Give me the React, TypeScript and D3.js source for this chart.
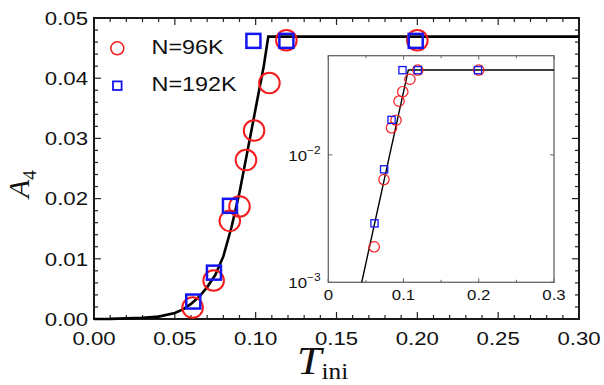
import React from "react";
import * as d3 from "d3";

// N=96K (red circles)
const t96 = [0.061, 0.074, 0.084, 0.09, 0.094, 0.099, 0.1085, 0.119, 0.2];
const a96 = [0.0019, 0.0064, 0.0163, 0.0187, 0.0264, 0.0313, 0.0392, 0.0463, 0.0463];
// N=192K (blue squares)
const t192 = [0.0614, 0.0742, 0.0841, 0.0986, 0.119, 0.199];
const a192 = [0.0029, 0.0077, 0.0188, 0.0462, 0.0462, 0.0462];

// fitted curve
const curveT = [0, 0.01, 0.02, 0.03, 0.04, 0.05, 0.055, 0.06, 0.065, 0.07, 0.075, 0.08, 0.085, 0.09, 0.095, 0.1, 0.105, 0.1078, 0.3];
const curveA = [0, 0.00002, 0.0001, 0.0002, 0.0004, 0.001, 0.0016, 0.0025, 0.0037, 0.0053, 0.0073, 0.0104, 0.0152, 0.021, 0.028, 0.035, 0.042, 0.0469, 0.0469];

// inset line (straight on log axis)
const insetLineT = [0.0444, 0.1064, 0.3];
const insetLineA = [0.001, 0.0464, 0.0464];

const xTicks = [0, 0.05, 0.1, 0.15, 0.2, 0.25, 0.3];
const yTicks = [0, 0.01, 0.02, 0.03, 0.04, 0.05];
const insetXTicks = [0, 0.1, 0.2, 0.3];
const insetYTicks = [0.001, 0.01];

const RED = "#f41c1c";
const BLUE = "#1515f0";
const SX = 1.2; // the picture's text is a little wide

const StretchText = ({ x, y, anchor = "start", size, children, ...rest }: any) => (
  <text
    transform={`translate(${x},${y}) scale(${SX},1)`}
    textAnchor={anchor}
    fontSize={size}
    fontFamily="'Liberation Sans', Arial, sans-serif"
    fill="#111"
    {...rest}
  >
    {children}
  </text>
);

export default function App() {
  const x = d3.scaleLinear().domain([0, 0.3]).range([94, 579]);
  const y = d3.scaleLinear().domain([0, 0.05]).range([319, 18]);
  const ix = d3.scaleLinear().domain([0, 0.3]).range([328.3, 554]);
  const iy = d3.scaleLog().domain([0.001, 0.06]).range([282.3, 55.7]);

  const mainLine = d3
    .line<number>()
    .x((t) => x(t))
    .y((_, i) => y(curveA[i]))
    .curve(d3.curveLinear)(curveT);

  const insetLine = d3
    .line<number>()
    .x((t) => ix(t))
    .y((_, i) => iy(insetLineA[i]))(insetLineT);

  const xMinor = d3.range(0, 0.3001, 0.01);
  const yMinor = d3.range(0, 0.05001, 0.002);
  const [x0, x1] = x.range();
  const [y0, y1] = y.range();

  return (
    <div style={{ position: "fixed", left: 0, top: 0 }}>
      <svg width={604} height={385} style={{ display: "block", background: "#fff" }}>
        {/* main ticks */}
        <g stroke="#222" strokeWidth={1.2}>
          {xMinor.map((t, i) => {
            const major = i % 5 === 0;
            const len = major ? 7 : 4;
            return (
              <g key={"xm" + i}>
                <line x1={x(t)} x2={x(t)} y1={y0} y2={y0 - len} />
                <line x1={x(t)} x2={x(t)} y1={y1} y2={y1 + len} />
              </g>
            );
          })}
          {yMinor.map((a, i) => {
            const major = i % 5 === 0;
            const len = major ? 7 : 4;
            return (
              <g key={"ym" + i}>
                <line x1={x0} x2={x0 + len} y1={y(a)} y2={y(a)} />
                <line x1={x1} x2={x1 - len} y1={y(a)} y2={y(a)} />
              </g>
            );
          })}
        </g>
        <rect x={x0} y={y1} width={x1 - x0} height={y0 - y1} fill="none" stroke="#1a1a1a" strokeWidth={2} />

        {xTicks.map((t) => (
          <StretchText key={"xt" + t} x={x(t)} y={345} anchor="middle" size={18.5}>
            {t.toFixed(2)}
          </StretchText>
        ))}
        {yTicks.map((a) => (
          <StretchText key={"yt" + a} x={88} y={y(a) + 6.7} anchor="end" size={18.5}>
            {a.toFixed(2)}
          </StretchText>
        ))}

        {/* main curve */}
        <path d={mainLine || ""} fill="none" stroke="#000" strokeWidth={2.6} strokeLinejoin="miter" />

        {/* main markers */}
        {t96.map((t, i) => (
          <circle key={"c" + i} cx={x(t)} cy={y(a96[i])} r={10.3} fill="none" stroke={RED} strokeWidth={2} />
        ))}
        {t192.map((t, i) => (
          <rect key={"s" + i} x={x(t) - 7} y={y(a192[i]) - 7} width={14} height={14} fill="none" stroke={BLUE} strokeWidth={2.5} />
        ))}

        {/* legend */}
        <circle cx={117.3} cy={48.3} r={6.5} fill="none" stroke={RED} strokeWidth={1.5} />
        <StretchText x={151.5} y={53.5} size={19.5}>N=96K</StretchText>
        <rect x={113} y={81.4} width={8.6} height={8.6} fill="none" stroke={BLUE} strokeWidth={1.8} />
        <StretchText x={151.5} y={91} size={19.5}>N=192K</StretchText>

        {/* inset */}
        <g>
          <rect x={ix(0)} y={iy(0.06)} width={ix(0.3) - ix(0)} height={iy(0.001) - iy(0.06)} fill="#fff" stroke="#666" strokeWidth={1.3} />
          <g stroke="#666" strokeWidth={1}>
            {d3.range(0, 0.3001, 0.05).map((t, i) => (
              <g key={"ixt" + i}>
                <line x1={ix(t)} x2={ix(t)} y1={iy(0.001)} y2={iy(0.001) - (i % 2 === 0 ? 4 : 2.5)} />
                <line x1={ix(t)} x2={ix(t)} y1={iy(0.06)} y2={iy(0.06) + (i % 2 === 0 ? 4 : 2.5)} />
              </g>
            ))}
            {insetYTicks.map((a) => (
              <g key={"iyt" + a}>
                <line x1={ix(0)} x2={ix(0) + 4} y1={iy(a)} y2={iy(a)} />
                <line x1={ix(0.3)} x2={ix(0.3) - 4} y1={iy(a)} y2={iy(a)} />
              </g>
            ))}
          </g>
          {insetXTicks.map((t) => (
            <StretchText key={"ixl" + t} x={ix(t)} y={300} anchor="middle" size={14}>
              {t === 0 ? "0" : t.toFixed(1)}
            </StretchText>
          ))}
          {insetYTicks.map((a) => (
            <StretchText key={"iyl" + a} x={307} y={iy(a) + 6} anchor="end" size={14}>
              10
            </StretchText>
          ))}
          {insetYTicks.map((a) => (
            <StretchText key={"iye" + a} x={307} y={iy(a) - 1} anchor="start" size={10}>
              {a === 0.01 ? "\u22122" : "\u22123"}
            </StretchText>
          ))}
          <path d={insetLine || ""} fill="none" stroke="#000" strokeWidth={1.4} />
          {t96.map((t, i) => (
            <circle key={"ic" + i} cx={ix(t)} cy={iy(a96[i])} r={5.2} fill="none" stroke={RED} strokeWidth={1.2} />
          ))}
          {t192.map((t, i) => (
            <rect key={"is" + i} x={ix(t) - 3.6} y={iy(a192[i]) - 3.6} width={7.2} height={7.2} fill="none" stroke={BLUE} strokeWidth={1.3} />
          ))}
        </g>

        {/* axis titles */}
        <text
          transform="translate(29,198) rotate(-90)"
          fontFamily="'Liberation Serif', 'Times New Roman', serif"
          fontStyle="italic"
          fontSize={30}
          fill="#111"
        >
          A
          <tspan dy={7} fontStyle="normal" fontSize={19}>4</tspan>
        </text>
        <text
          transform="translate(297,374) scale(1.1,1)"
          fontFamily="'Liberation Serif', 'Times New Roman', serif"
          fill="#111"
        >
          <tspan fontStyle="italic" fontSize={40}>T</tspan>
          <tspan dy={5} fontSize={23}>ini</tspan>
        </text>
      </svg>
    </div>
  );
}
